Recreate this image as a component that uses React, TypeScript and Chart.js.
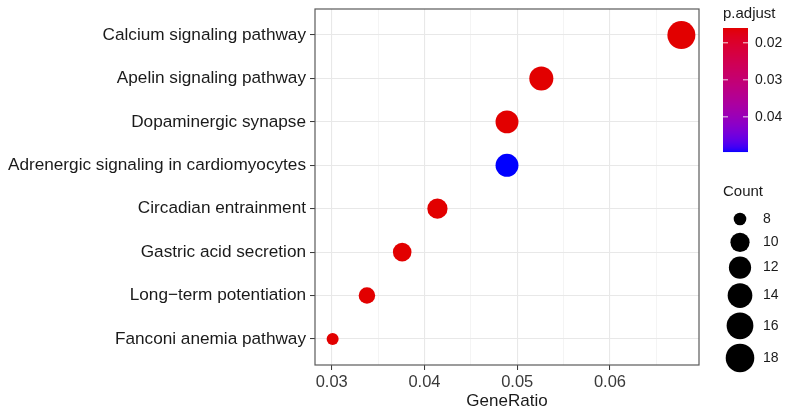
import React, { useEffect, useRef } from "react";
import { Chart, registerables } from "chart.js";

Chart.register(...registerables);

// ---------- data ----------
const CATEGORIES = [
  "Calcium signaling pathway",
  "Apelin signaling pathway",
  "Dopaminergic synapse",
  "Adrenergic signaling in cardiomyocytes",
  "Circadian entrainment",
  "Gastric acid secretion",
  "Long\u2212term potentiation",
  "Fanconi anemia pathway",
];
const GENE_RATIO = [0.0677, 0.0526, 0.0489, 0.0489, 0.0414, 0.0376, 0.0338, 0.0301];
const COUNT = [18, 14, 13, 13, 11, 10, 9, 8];
const P_ADJUST = [0.016, 0.016, 0.016, 0.0495, 0.016, 0.016, 0.016, 0.016];

const X_MAJOR = [0.03, 0.04, 0.05, 0.06];
const X_MINOR = [0.035, 0.045, 0.055, 0.065];
const X_LIMITS = [0.0282, 0.0696];
const COLORBAR_TICKS = [0.02, 0.03, 0.04];
const SIZE_BREAKS = [8, 10, 12, 14, 16, 18];

// ---------- styles ----------
const FONT = "'Liberation Sans', Arial, Helvetica, sans-serif";
const LOW_COLOR = [226, 0, 0];
const HIGH_COLOR = [0, 0, 255];
const P_MIN = Math.min(...P_ADJUST);
const P_MAX = Math.max(...P_ADJUST);
const C_MIN = Math.min(...COUNT);
const C_MAX = Math.max(...COUNT);
const R_MIN = 6;
const R_MAX = 14;

function radiusFor(c: number) {
  const t = (c - C_MIN) / (C_MAX - C_MIN);
  return R_MIN + (R_MAX - R_MIN) * Math.pow(Math.max(0, t), 0.55);
}

// Lab interpolation (like ggplot's gradient)
function srgbToLin(c: number) {
  c /= 255;
  return c <= 0.04045 ? c / 12.92 : Math.pow((c + 0.055) / 1.055, 2.4);
}
function linToSrgb(c: number) {
  const v = c <= 0.0031308 ? 12.92 * c : 1.055 * Math.pow(c, 1 / 2.4) - 0.055;
  return Math.round(Math.min(1, Math.max(0, v)) * 255);
}
const WX = 0.95047, WY = 1.0, WZ = 1.08883;
function fLab(t: number) {
  return t > 216 / 24389 ? Math.cbrt(t) : (24389 / 27 * t + 16) / 116;
}
function fInv(t: number) {
  const t3 = t * t * t;
  return t3 > 216 / 24389 ? t3 : (116 * t - 16) / (24389 / 27);
}
function rgbToLab(rgb: number[]) {
  const [r, g, b] = rgb.map(srgbToLin);
  const x = (0.4124 * r + 0.3576 * g + 0.1805 * b) / WX;
  const y = (0.2126 * r + 0.7152 * g + 0.0722 * b) / WY;
  const z = (0.0193 * r + 0.1192 * g + 0.9505 * b) / WZ;
  const fx = fLab(x), fy = fLab(y), fz = fLab(z);
  return [116 * fy - 16, 500 * (fx - fy), 200 * (fy - fz)];
}
function labToRgb(lab: number[]) {
  const [L, a, bb] = lab;
  const fy = (L + 16) / 116;
  const fx = fy + a / 500;
  const fz = fy - bb / 200;
  const x = fInv(fx) * WX, y = fInv(fy) * WY, z = fInv(fz) * WZ;
  const r = 3.2406 * x - 1.5372 * y - 0.4986 * z;
  const g = -0.9689 * x + 1.8758 * y + 0.0415 * z;
  const b = 0.0557 * x - 0.204 * y + 1.057 * z;
  return [linToSrgb(r), linToSrgb(g), linToSrgb(b)];
}
const LAB_LOW = rgbToLab(LOW_COLOR);
const LAB_HIGH = rgbToLab(HIGH_COLOR);
function colorFor(p: number) {
  const t = Math.min(1, Math.max(0, (p - P_MIN) / (P_MAX - P_MIN)));
  const lab = LAB_LOW.map((v, i) => v + (LAB_HIGH[i] - v) * t);
  const [r, g, b] = labToRgb(lab);
  return `rgb(${r},${g},${b})`;
}

const isMajor = (v: number) => X_MAJOR.some((m) => Math.abs(m - v) < 1e-9);

const N = CATEGORIES.length;

const decorPlugin = {
  id: "decor",
  afterDraw(chart: any) {
    const ctx = chart.ctx as CanvasRenderingContext2D;
    const area = chart.chartArea;
    ctx.save();
    // panel border
    ctx.strokeStyle = "#5a5a5a";
    ctx.lineWidth = 1.2;
    ctx.strokeRect(area.left, area.top, area.right - area.left, area.bottom - area.top);

    // x title
    ctx.fillStyle = "#1a1a1a";
    ctx.font = `17px ${FONT}`;
    ctx.textAlign = "center";
    ctx.textBaseline = "middle";
    ctx.fillText("GeneRatio", (area.left + area.right) / 2, 401);

    // colour legend
    const lx = 723;
    ctx.textAlign = "left";
    ctx.textBaseline = "alphabetic";
    ctx.font = `15px ${FONT}`;
    ctx.fillStyle = "#1a1a1a";
    ctx.fillText("p.adjust", lx, 18);
    const barTop = 28, barH = 124, barW = 25;
    for (let i = 0; i < barH; i++) {
      const p = P_MIN + ((i + 0.5) / barH) * (P_MAX - P_MIN);
      ctx.fillStyle = colorFor(p);
      ctx.fillRect(lx, barTop + i, barW, 1.05);
    }
    ctx.font = `14px ${FONT}`;
    ctx.textBaseline = "middle";
    COLORBAR_TICKS.forEach((t) => {
      const y = barTop + ((t - P_MIN) / (P_MAX - P_MIN)) * barH;
      ctx.strokeStyle = "rgba(255,255,255,0.85)";
      ctx.lineWidth = 1;
      ctx.beginPath();
      ctx.moveTo(lx, y);
      ctx.lineTo(lx + 5, y);
      ctx.moveTo(lx + barW - 5, y);
      ctx.lineTo(lx + barW, y);
      ctx.stroke();
      ctx.fillStyle = "#1a1a1a";
      ctx.fillText(t.toFixed(2), lx + barW + 7, y);
    });

    // size legend
    ctx.textBaseline = "alphabetic";
    ctx.font = `15px ${FONT}`;
    ctx.fillText("Count", lx, 196);
    let y = 207.5;
    const cx = 740;
    ctx.font = `14px ${FONT}`;
    ctx.textBaseline = "middle";
    SIZE_BREAKS.forEach((c) => {
      const r = radiusFor(c) + 0.3;
      const h = Math.max(23, 2 * r + 4.5);
      const cy = y + h / 2;
      ctx.fillStyle = "#000";
      ctx.beginPath();
      ctx.arc(cx, cy, r, 0, Math.PI * 2);
      ctx.fill();
      ctx.fillStyle = "#1a1a1a";
      ctx.fillText(String(c), 763, cy);
      y += h;
    });
    ctx.restore();
  },
};

export default function App() {
  const ref = useRef<HTMLCanvasElement | null>(null);
  useEffect(() => {
    if (!ref.current) return;
    const data = GENE_RATIO.map((g, i) => ({ x: g, y: N - i }));
    const chart = new Chart(ref.current, {
      type: "scatter",
      data: {
        datasets: [
          {
            data,
            pointRadius: (c: any) => radiusFor(COUNT[c.dataIndex]),
            pointHoverRadius: (c: any) => radiusFor(COUNT[c.dataIndex]),
            pointBackgroundColor: (c: any) => colorFor(P_ADJUST[c.dataIndex]),
            pointBorderWidth: 0,
            pointBorderColor: "rgba(0,0,0,0)",
          },
        ],
      },
      options: {
        animation: false,
        responsive: false,
        events: [],
        layout: { autoPadding: false, padding: { left: 0, top: 9, right: 91, bottom: 0 } },
        plugins: { legend: { display: false }, tooltip: { enabled: false } },
        scales: {
          x: {
            type: "linear",
            bounds: "data",
            min: X_LIMITS[0],
            max: X_LIMITS[1],
            afterBuildTicks: (s: any) => {
              s.ticks = [...X_MAJOR, ...X_MINOR].sort((a, b) => a - b).map((v) => ({ value: v }));
            },
            afterFit: (s: any) => {
              s.height = 44;
              s.paddingLeft = 0;
              s.paddingRight = 0;
              s.paddingTop = 0;
              s.paddingBottom = 0;
            },
            border: { display: false },
            grid: {
              color: (c: any) => (c.tick && isMajor(c.tick.value) ? "#E8E8E8" : "#F1F1F1"),
              lineWidth: (c: any) => (c.tick && isMajor(c.tick.value) ? 1.1 : 0.8),
              tickColor: (c: any) => (c.tick && isMajor(c.tick.value) ? "#333333" : "rgba(0,0,0,0)"),
              tickWidth: 1,
              tickLength: 5,
            },
            ticks: {
              autoSkip: false,
              maxRotation: 0,
              padding: 3,
              color: "#3a3a3a",
              font: { family: FONT, size: 16.5 },
              callback: (v: any) => (isMajor(Number(v)) ? Number(v).toFixed(2) : ""),
            },
          },
          y: {
            type: "linear",
            bounds: "data",
            min: 0.4,
            max: N + 0.6,
            afterBuildTicks: (s: any) => {
              s.ticks = CATEGORIES.map((_, i) => ({ value: N - i }));
            },
            afterFit: (s: any) => {
              s.width = 315;
              s.paddingLeft = 0;
              s.paddingRight = 0;
              s.paddingTop = 0;
              s.paddingBottom = 0;
            },
            border: { display: false },
            grid: {
              color: "#E8E8E8",
              lineWidth: 1.1,
              tickColor: "#333333",
              tickWidth: 1,
              tickLength: 5,
            },
            ticks: {
              autoSkip: false,
              padding: 4,
              color: "#1a1a1a",
              font: { family: FONT, size: 17.2 },
              callback: (v: any) => CATEGORIES[N - Math.round(Number(v))] ?? "",
            },
          },
        },
      },
      plugins: [decorPlugin],
    } as any);
    return () => chart.destroy();
  }, []);
  return (
    <div style={{ position: "fixed", left: 0, top: 0, width: 790, height: 409, background: "#fff" }}>
      <canvas ref={ref} width={790} height={409} style={{ display: "block" }} />
    </div>
  );
}
